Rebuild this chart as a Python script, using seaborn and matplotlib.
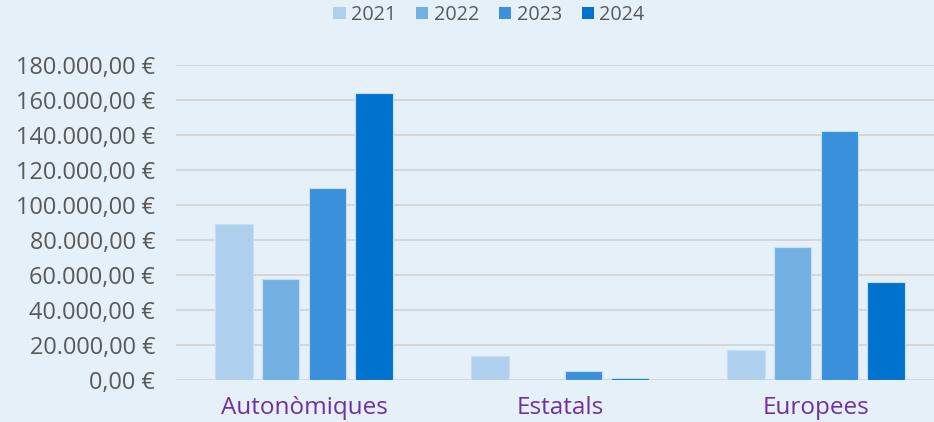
import matplotlib
matplotlib.use("Agg")
import matplotlib.pyplot as plt
from matplotlib.ticker import FuncFormatter
from matplotlib.patches import Patch
import seaborn as sns
import pandas as pd

# Funding by origin and year (euros)
categories = ["Autonòmiques", "Estatals", "Europees"]
years = ["2021", "2022", "2023", "2024"]
values_2021 = [88900, 13400, 16800]
values_2022 = [57400, 0, 75600]
values_2023 = [109400, 4800, 142400]
values_2024 = [164000, 800, 55600]
y_ticks = [0, 20000, 40000, 60000, 80000, 100000, 120000, 140000, 160000, 180000]

colors = ["#AED0EE", "#73B1E3", "#3A90DA", "#0073CF"]
bg = "#E5F0F9"

series = [values_2021, values_2022, values_2023, values_2024]
rows = []
for year, vals in zip(years, series):
    for cat, v in zip(categories, vals):
        rows.append({"origen": cat, "any": year, "import": v})
df = pd.DataFrame(rows)

sns.set_theme(style="white")
plt.rcParams["font.family"] = ["Open Sans", "DejaVu Sans"]

W, H = 934, 422
fig = plt.figure(figsize=(W / 100, H / 100), dpi=100, facecolor=bg)
# plot area (pixels): x 176..944, y 65..379.5
ax = fig.add_axes([176 / W, (H - 379.5) / H, 768 / W, 314.5 / H])
ax.set_facecolor(bg)

ax.set_axisbelow(True)
for t in y_ticks:
    ax.axhline(t, color="#D6D6D6", lw=1.4, zorder=0)

sns.barplot(data=df, x="origen", y="import", hue="any", hue_order=years,
            palette=colors, width=0.73, gap=0.2, ax=ax, legend=False,
            edgecolor="#C9E0F4", linewidth=0.8, saturation=1)

for p in ax.patches:
    p.set_zorder(2)

ax.set_xlim(-0.5, 2.5)
ax.set_ylim(0, 180000)
ax.set_yticks(y_ticks)


def euro(v, pos):
    s = f"{v:,.2f}"
    s = s.replace(",", "X").replace(".", ",").replace("X", ".")
    return f"{s} €"


ax.yaxis.set_major_formatter(FuncFormatter(euro))
ax.tick_params(axis="y", length=0, pad=15, labelsize=16.9, labelcolor="#595959")
ax.tick_params(axis="x", length=0, pad=12, labelsize=17.5, labelcolor="#7030A0")
ax.set_xlabel("")
ax.set_ylabel("")
for s in ax.spines.values():
    s.set_visible(False)

handles = [Patch(facecolor=c, edgecolor="none") for c in colors]
fig.legend(handles, years, loc="center", bbox_to_anchor=(489 / W, 1 - 15 / H),
           ncol=4, frameon=False, fontsize=14.2, labelcolor="#595959",
           handlelength=0.62, handleheight=0.62, handletextpad=0.28,
           columnspacing=1.0, borderaxespad=0)

fig.savefig("out.png", dpi=100, facecolor=bg)
